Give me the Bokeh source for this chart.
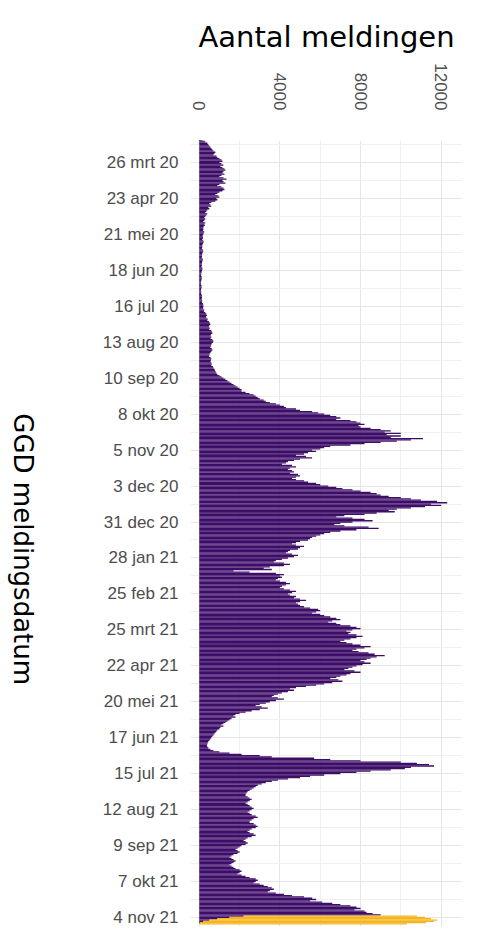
import numpy as np
import pandas as pd
from math import pi
from bokeh.plotting import figure
from bokeh.layouts import row
from bokeh.models import Range1d, FixedTicker, Label, ColumnDataSource
from bokeh.embed import file_html
from bokeh.resources import INLINE

start_date = "2020-03-01"
# daily values per week (starting Sundays)
weeks = [
 [10,20,30,50,80,120,150],[200,250,300,400,450,500,550],[600,650,700,800,750,700,850],
 [900,1000,1100,1150,1000,1100,1200],[1050,1150,1250,1300,1200,1150,1250],[1100,1000,1200,1350,1150,1200,1300],
 [1000,900,1100,1200,1250,1150,1000],[900,800,950,1000,850,900,800],[600,500,550,600,450,500,400],
 [350,300,400,350,300,250,300],[250,200,300,250,280,220,200],[200,180,250,220,200,170,180],
 [180,150,200,220,190,160,150],[150,130,180,200,170,150,140],[140,120,170,180,150,140,130],
 [130,110,150,160,140,120,110],[100,90,120,130,110,100,90],[90,80,110,120,100,90,90],
 [100,90,120,130,140,120,130],[150,140,180,200,210,190,200],[250,230,300,350,380,340,350],
 [420,400,480,520,550,500,480],[520,500,600,620,650,580,560],[600,560,650,700,680,620,600],
 [580,550,620,650,600,560,520],[500,480,560,600,580,560,600],[620,600,680,700,750,780,820],
 [850,900,1000,1100,1200,1300,1400],[1500,1600,1700,1800,1900,2000,2100],[2100,2300,2500,2700,2800,2900,3000],
 [3200,3300,3500,3800,4000,4200,4300],[4800,5000,5600,5900,6200,6500,6800],[7000,6800,7500,7800,8000,8200,7900],
 [8000,8500,9000,9500,9200,10000,9300],[10000,9500,11100,10500,9800,9000,8200],[7500,6500,6200,6000,5600,5800,5400],
 [5200,4800,5300,5600,5000,4700,4400],[4300,4100,4600,4800,4500,4400,4600],[4700,4500,4900,5000,4800,4600,4800],
 [5200,5400,5800,6000,6400,6800,7100],[7600,8000,8500,8800,9000,9400,10000],[10500,11000,11800,12300,11500,12000,11200],
 [10500,9800,9400,9700,8800,8200,7200],[6800,7600,8200,8600,7600,7000,6700],[7200,8400,8900,7800,7000,6500,6200],
 [6000,5800,5600,5500,5400,5000,4800],[4600,4800,5200,5000,4900,4500,4400],[4300,4600,4900,4700,4400,4100,3800],
 [3700,4200,4500,4200,3500,3200,3600],[1700,2500,3800,4200,4000,4100,3900],[3800,4000,4300,4500,4300,4100,4000],
 [4200,4500,4800,4600,4400,4500,4800],[4700,5000,5300,5000,4800,4900,5000],[5200,5500,5900,6000,5800,5600,6000],
 [6200,6500,6800,7000,6600,6400,6800],[7000,7500,7800,8000,7600,7300,7500],[7400,7800,8100,7800,7500,7200,7000],
 [7300,7600,8000,8500,8200,7800,7600],[7900,8400,8700,9200,8800,8500,8300],[8000,8200,8500,8100,7800,7600,7400],
 [7200,7700,8000,7500,7300,7000,6800],[6500,6900,7100,6600,6200,5800,5300],[4800,4500,4700,4400,4100,3900,3700],
 [3600,3900,4200,3800,3500,3300,3000],[2800,3100,3400,3000,2600,2300,2000],[1800,1700,1800,1600,1500,1400,1300],
 [1200,1100,1200,1050,1000,900,850],[800,750,700,650,600,550,500],[450,420,400,380,400,450,550],
 [700,1000,1500,2100,3000,3600,5700],[6500,8000,10000,10800,11400,11650,10500],[10200,9500,8500,7800,7000,6200,5500],
 [5000,4400,3900,3600,3300,3100,2900],[2800,2700,2600,2500,2400,2350,2300],[2300,2400,2500,2600,2500,2400,2300],
 [2400,2500,2600,2700,2600,2500,2400],[2500,2600,2800,2900,2700,2600,2500],[2500,2700,2800,2900,2800,2600,2500],
 [2400,2500,2700,2800,2600,2400,2300],[2200,2300,2400,2300,2100,2000,1900],[1800,1900,2000,1900,1700,1600,1500],
 [1600,1700,1800,1700,1600,1500,1600],[1700,1800,2000,2100,2000,1900,2100],[2300,2500,2800,2900,2800,2700,3000],
 [3200,3400,3600,3700,3500,3400,3800],[4200,4600,5200,5600,5800,5500,6100],[6600,7000,7500,7800,8000,7700,8200],
 [8300,8600,9000],
]
# last 7 days: confirmed part (purple) and not-yet-final part (yellow)
recent_purple = [2200,1500,900,500,200,50,0]
recent_yellow = [8600,9700,10600,11300,11450,11200,10300]

purple_vals = [v for w in weeks for v in w] + recent_purple
n = len(purple_vals)
yellow_vals = [0]*(n-len(recent_yellow)) + recent_yellow
dates = pd.date_range(start_date, periods=n, freq="D")

tick_labels = ["26 mrt 20","23 apr 20","21 mei 20","18 jun 20","16 jul 20","13 aug 20","10 sep 20",
               "8 okt 20","5 nov 20","3 dec 20","31 dec 20","28 jan 21","25 feb 21","25 mrt 21",
               "22 apr 21","20 mei 21","17 jun 21","15 jul 21","12 aug 21","9 sep 21","7 okt 21","4 nov 21"]
tick_dates = pd.date_range("2020-03-26", periods=len(tick_labels), freq="28D")

def ms(d):
    return pd.Timestamp(d).value / 1e6

DAY = 86400000.0
y = np.array([ms(d) for d in dates])
src = ColumnDataSource(dict(y=y, p=purple_vals, tot=np.array(purple_vals)+np.array(yellow_vals)))

ref = ms("2020-03-26")
top = ref + (148-170)/1.284*DAY
bot = ref + (934-170)/1.284*DAY

LW = 48
p = figure(width=462-LW, height=927, output_backend="svg", toolbar_location=None,
           x_axis_location="above", y_range=Range1d(bot, top),
           x_range=Range1d(-434, 13060),
           min_border_left=190-LW, min_border_right=0, min_border_top=140, min_border_bottom=1)
p.outline_line_color = None
p.background_fill_color = "white"

p.hbar(y="y", left=0, right="p", height=DAY*1.03, source=src, color="#3d0d68", line_color=None)
p.hbar(y="y", left="p", right="tot", height=DAY*1.03, source=src, color="#f4b51f", line_color=None)

p.title.text = "Aantal meldingen"
p.title.align = "center"
p.title.text_font = "DejaVu Sans"
p.title.text_font_size = "29px"
p.title.text_font_style = "normal"
p.title.text_color = "black"
p.title.standoff = 14

xa = p.xaxis[0]
xa.ticker = FixedTicker(ticks=[0,4000,8000,12000], minor_ticks=[2000,6000,10000])
xa.major_label_orientation = -pi/2
xa.major_label_text_font = "Liberation Sans"
xa.major_label_text_font_size = "17px"
xa.major_label_text_color = "#4d4d4d"
xa.axis_line_color = None
xa.major_tick_line_color = None
xa.minor_tick_line_color = None
xa.major_label_standoff = 24

ya = p.yaxis[0]
ya.ticker = FixedTicker(ticks=[ms(d) for d in tick_dates],
                        minor_ticks=[ms(d) + 14*DAY for d in tick_dates[:-1]] + [ms(tick_dates[0]) - 14*DAY])
ya.major_label_overrides = {ms(d): l for d, l in zip(tick_dates, tick_labels)}
ya.major_label_text_font = "Liberation Sans"
ya.major_label_text_font_size = "17px"
ya.major_label_text_color = "#4d4d4d"
ya.axis_line_color = None
ya.major_tick_line_color = None
ya.minor_tick_line_color = None
ya.major_label_standoff = 6

for g in (p.xgrid[0], p.ygrid[0]):
    g.grid_line_color = "#e6e6e6"
    g.minor_grid_line_color = "#f0f0f0"
p.xgrid[0].ticker = xa.ticker
p.ygrid[0].ticker = ya.ticker

# side panel carrying the y-axis title
s = figure(width=LW, height=927, output_backend="svg", toolbar_location=None,
           x_range=Range1d(0, LW), y_range=Range1d(0, 927),
           min_border=0)
s.axis.visible = False
s.grid.visible = False
s.outline_line_color = None
s.add_layout(Label(x=22, y=927-482, text="GGD meldingsdatum",
                   angle=-pi/2, text_align="center", text_baseline="middle",
                   text_font="DejaVu Sans", text_font_size="26px", text_color="black"))

layout = row(s, p, spacing=0)
open("out.html", "w").write(file_html(layout, INLINE))
